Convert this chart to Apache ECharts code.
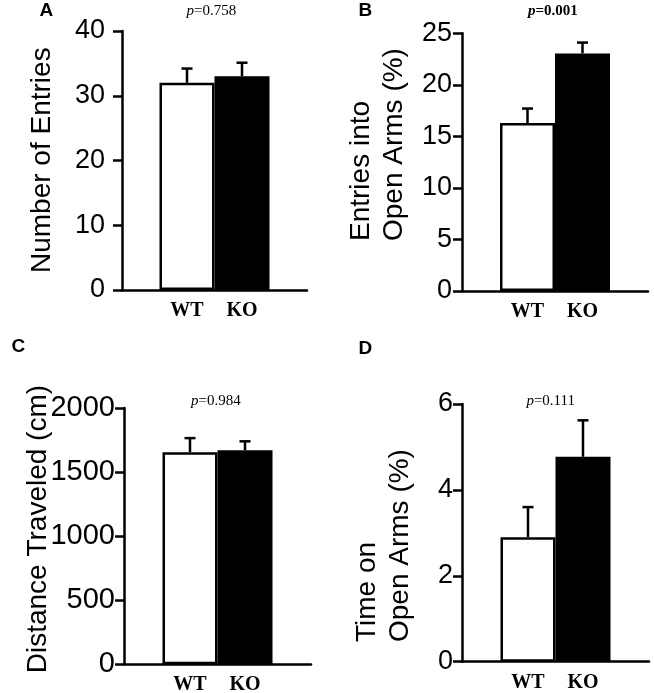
<!DOCTYPE html>
<html>
<head>
<meta charset="utf-8">
<script src="https://cdn.jsdelivr.net/npm/echarts@6/dist/echarts.min.js"></script>
<style>
html,body{margin:0;padding:0;background:#fff;}
#chart{width:654px;height:693px;}
</style>
</head>
<body>
<div id="chart"></div>
<script>
// ---- data ----
const groups = ['WT', 'KO'];
const entriesMean = [32.0, 33.0];
const entriesUpper = [34.2, 35.1];
const openEntriesMean = [16.3, 23.05];
const openEntriesUpper = [17.7, 24.1];
const distanceMean = [1655, 1670];
const distanceUpper = [1765, 1740];
const openTimeMean = [2.9, 4.77];
const openTimeUpper = [3.6, 5.62];
const yMax = [40, 25, 2000, 6];
const yInterval = [10, 5, 500, 2];
const yNames = ['Number of Entries', 'Entries into\nOpen Arms (%)', 'Distance Traveled (cm)', 'Time on\nOpen Arms (%)'];
const panelLetters = ['A', 'B', 'C', 'D'];
const pValues = ['0.758', '0.001', '0.984', '0.111'];
const pBold = [false, true, false, false];

const means = [entriesMean, openEntriesMean, distanceMean, openTimeMean];
const uppers = [entriesUpper, openEntriesUpper, distanceUpper, openTimeUpper];

// ---- layout (styles) ----
const grids = [
  {left: 122, top: 31, width: 185, height: 259},
  {left: 462, top: 33.3, width: 186, height: 257.7},
  {left: 124, top: 408, width: 187, height: 256.3},
  {left: 462, top: 404, width: 187, height: 257.7}
];
const labelMargins = [17, 10, 9, 9];
const tickFont = [27, 27, 29, 27];
const nameStart = [17, 50, -9, 19.7];
const nameSide = [63, 51, 69, 45.5];
const letterPos = [[39.5, 1], [358.5, 1], [11.5, 337.5], [358.5, 339]];
const pPos = [[211.3, 11.5], [552.8, 11], [215.8, 401], [550.7, 401]];

const BAR_W = 55;
const LW = 2.5;
const sans = '"Liberation Sans", Arial, sans-serif';
const serif = '"Liberation Serif", "Times New Roman", serif';

const option = {
  animation: false,
  backgroundColor: '#fff',
  grid: [], xAxis: [], yAxis: [], series: [], graphic: []
};

for (let i = 0; i < 4; i++) {
  option.grid.push(Object.assign({containLabel: false}, grids[i]));
  option.xAxis.push({
    type: 'category', gridIndex: i, data: [''],
    axisLine: {lineStyle: {color: '#000', width: LW}},
    axisTick: {show: false}, axisLabel: {show: false}, splitLine: {show: false}
  });
  option.yAxis.push({
    type: 'value', gridIndex: i, min: 0, max: yMax[i], interval: yInterval[i],
    name: yNames[i],
    nameLocation: 'start',
    nameRotate: 90,
    nameGap: nameStart[i] < 0 ? -nameStart[i] : 0,
    nameMoveOverlap: false,
    nameTextStyle: {
      fontFamily: sans, fontSize: 28, color: '#000', lineHeight: 33,
      align: 'left', verticalAlign: 'bottom',
      padding: [0, 0, nameSide[i], nameStart[i] > 0 ? nameStart[i] : 0]
    },
    axisLine: {show: true, lineStyle: {color: '#000', width: LW}},
    axisTick: {show: true, inside: false, length: 9, lineStyle: {color: '#000', width: 2.5}},
    axisLabel: {fontFamily: sans, fontSize: tickFont[i], color: '#000', margin: labelMargins[i],
                formatter: v => String(v)},
    splitLine: {show: false}
  });

  groups.forEach((g, k) => {
    option.series.push({
      type: 'bar', name: g, xAxisIndex: i, yAxisIndex: i,
      data: [means[i][k]],
      barWidth: BAR_W, barGap: '0%',
      itemStyle: {color: k === 0 ? '#fff' : '#000', borderColor: '#000', borderWidth: LW},
      label: {
        show: true, position: 'bottom', distance: 11,
        formatter: () => g,
        fontFamily: serif, fontWeight: 'bold', fontSize: 20, color: '#000'
      },
      z: 2
    });
  });

  option.series.push({
    type: 'custom', xAxisIndex: i, yAxisIndex: i, z: 3,
    data: groups.map((g, k) => [0, means[i][k], uppers[i][k], k]),
    encode: {x: 0, y: [1, 2]},
    renderItem: function (params, api) {
      const k = api.value(3);
      const base = api.coord([0, api.value(1)]);
      const top = api.coord([0, api.value(2)]);
      const x = base[0] + (k === 0 ? -1 : 1) * BAR_W / 2;
      const half = 5.5;
      const st = {stroke: '#000', lineWidth: LW, fill: 'none'};
      return {
        type: 'group',
        children: [
          {type: 'line', shape: {x1: x, y1: base[1], x2: x, y2: top[1]}, style: st},
          {type: 'line', shape: {x1: x - half, y1: top[1], x2: x + half, y2: top[1]}, style: st}
        ]
      };
    }
  });

  option.graphic.push({
    type: 'text', x: letterPos[i][0], y: letterPos[i][1],
    style: {text: panelLetters[i], font: 'bold 19px ' + sans, fill: '#000',
            align: 'left', verticalAlign: 'top', textAlign: 'left', textVerticalAlign: 'top'}
  });
  const w = pBold[i] ? 'bold ' : '';
  option.graphic.push({
    type: 'text', x: pPos[i][0], y: pPos[i][1],
    style: {
      text: '{i|p}{n|=' + pValues[i] + '}',
      align: 'center', verticalAlign: 'middle', textAlign: 'center', textVerticalAlign: 'middle',
      font: w + '15px ' + serif, fill: '#000',
      rich: {
        i: {fontFamily: serif, fontSize: 15, fontStyle: 'italic', fontWeight: pBold[i] ? 'bold' : 'normal', fill: '#000', color: '#000'},
        n: {fontFamily: serif, fontSize: 15, fontWeight: pBold[i] ? 'bold' : 'normal', fill: '#000', color: '#000'}
      }
    }
  });
}

const chart = echarts.init(document.getElementById('chart'), null, {renderer: 'canvas'});
chart.setOption(option);
</script>
</body>
</html>
